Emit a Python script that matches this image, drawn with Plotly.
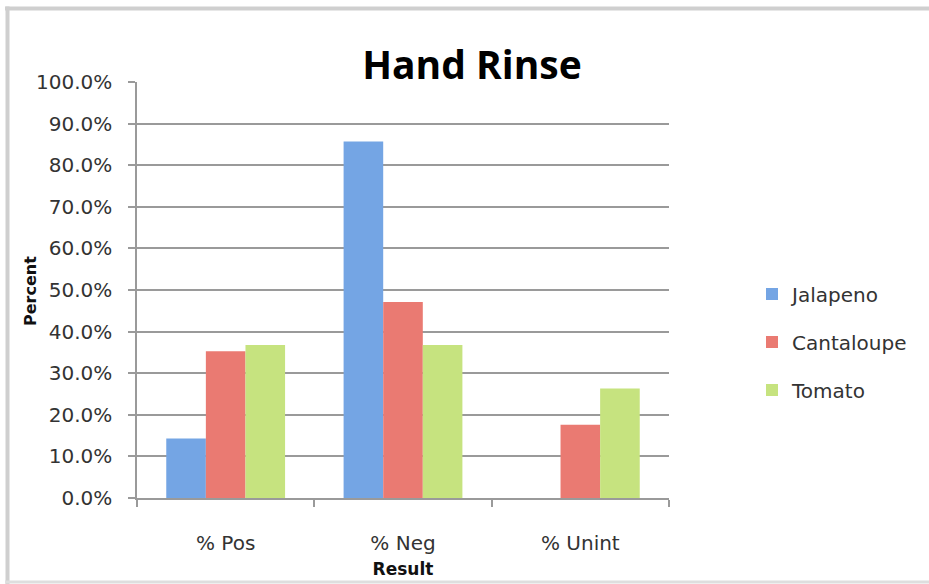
import plotly.graph_objects as go

categories = ["% Pos", "% Neg", "% Unint"]
jalapeno = [0.143, 0.857, 0.0]
cantaloupe = [0.353, 0.471, 0.176]
tomato = [0.368, 0.368, 0.263]
series_names = ["Jalapeno", "Cantaloupe", "Tomato"]
series_colors = ["#74a5e4", "#ea7a72", "#c6e37f"]
y_tick_vals = [0.0, 0.1, 0.2, 0.3, 0.4, 0.5, 0.6, 0.7, 0.8, 0.9, 1.0]
y_tick_text = ["0.0%", "10.0%", "20.0%", "30.0%", "40.0%", "50.0%",
               "60.0%", "70.0%", "80.0%", "90.0%", "100.0%"]

W, H = 929, 584
L, R, T, B = 137, 929 - 669, 82, 584 - 498
pw, ph = W - L - R, H - T - B

def px_x(x):
    return (x - L) / pw

def px_y(y):
    return (H - B - y) / ph

fig = go.Figure()
for name, vals, col in zip(series_names, [jalapeno, cantaloupe, tomato], series_colors):
    fig.add_trace(go.Bar(x=categories, y=vals, name=name, legendgroup=name,
                         marker=dict(color=col, line=dict(width=0))))

font_main = "DejaVu Sans"
fig.update_layout(
    width=W, height=H,
    margin=dict(l=L, r=R, t=T, b=B, autoexpand=False),
    paper_bgcolor="white", plot_bgcolor="white",
    barmode="group", bargap=0.33, bargroupgap=0,
    showlegend=True,
    legend=dict(x=px_x(752), xanchor="left", y=px_y(342), yanchor="middle",
                font=dict(family=font_main, size=20, color="#333333"),
                tracegroupgap=19, bgcolor="rgba(0,0,0,0)"),
    xaxis=dict(
        type="category", showgrid=False, showline=True, linecolor="#9a9a9a", linewidth=1.5,
        ticks="outside", tickson="boundaries", ticklen=7, tickcolor="#9a9a9a", tickwidth=1.5,
        tickfont=dict(family=font_main, size=20, color="#333333"),
        ticklabelstandoff=26, automargin=False,
        title=dict(text="<b>Result</b>", font=dict(family=font_main, size=17, color="#111111"),
                   standoff=9),
    ),
    yaxis=dict(
        range=[0, 1.0], tickvals=y_tick_vals, ticktext=y_tick_text,
        showgrid=True, gridcolor="#9a9a9a", gridwidth=1.5,
        showline=True, linecolor="#9a9a9a", linewidth=1.5,
        ticks="outside", ticklen=7, tickcolor="#9a9a9a", tickwidth=1.5,
        tickfont=dict(family=font_main, size=20, color="#333333"),
        ticklabelstandoff=12, zeroline=False, automargin=False,
    ),
    annotations=[
        dict(text="<b>Percent</b>", xref="paper", yref="paper", x=px_x(30), y=px_y(291),
             xanchor="center", yanchor="middle", textangle=-90, showarrow=False,
             font=dict(family=font_main, size=16, color="#111111")),
    ],
    title=dict(text="<b>Hand Rinse</b>", x=px_x(472), xanchor="center", xref="paper",
               y=1 - 65 / H, yanchor="middle",
               font=dict(family="Open Sans", size=39, color="#000000")),
    shapes=[
        dict(type="line", xref="paper", yref="paper", x0=px_x(5), x1=px_x(929),
             y0=px_y(8.5), y1=px_y(8.5), line=dict(color="#cfcfcf", width=4)),
        dict(type="line", xref="paper", yref="paper", x0=px_x(7.5), x1=px_x(7.5),
             y0=px_y(6.5), y1=px_y(584), line=dict(color="#cfcfcf", width=4)),
        dict(type="line", xref="paper", yref="paper", x0=px_x(5), x1=px_x(929),
             y0=px_y(582), y1=px_y(582), line=dict(color="#dedede", width=3)),
    ],
)

fig.write_html("out.html")
